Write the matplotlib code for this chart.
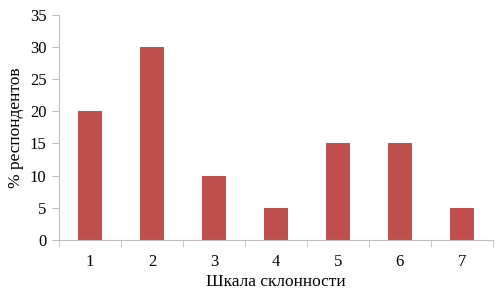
import numpy as np
import matplotlib
matplotlib.use("Agg")
import matplotlib.pyplot as plt

# scale points and share of respondents (%)
scale_labels = ["1", "2", "3", "4", "5", "6", "7"]
percent_vals = [20, 30, 10, 5, 15, 15, 5]

plt.rcParams['font.family'] = ['Liberation Serif', 'DejaVu Serif']

fig = plt.figure(figsize=(5.04, 2.98), dpi=100)
ax = fig.add_axes([0.117, 0.195, 0.861, 0.755])

x_pos = np.arange(len(scale_labels))
ax.bar(x_pos, percent_vals, width=0.39, color="#C0504D")

ax.set_xlim(-0.5, len(scale_labels) - 0.5)
ax.set_ylim(0, 35)
ax.set_yticks(np.arange(0, 36, 5))

ax.set_xticks(x_pos)
ax.set_xticklabels(scale_labels)
ax.set_xticks(np.arange(-0.5, len(scale_labels)), minor=True)
ax.tick_params(axis="x", which="major", length=0, pad=10, labelsize=12)
ax.tick_params(axis="x", which="minor", length=5, color="#BFBFBF", direction="out")
ax.tick_params(axis="y", length=5, color="#BFBFBF", direction="out", labelsize=12, pad=4)

for side in ["top", "right"]:
    ax.spines[side].set_visible(False)
for side in ["left", "bottom"]:
    ax.spines[side].set_color("#BFBFBF")

ax.set_xlabel("Шкала склонности", fontsize=12.5, labelpad=3)
ax.set_ylabel("% респондентов", fontsize=12.5, labelpad=4)

fig.savefig("out.png", dpi=100)
